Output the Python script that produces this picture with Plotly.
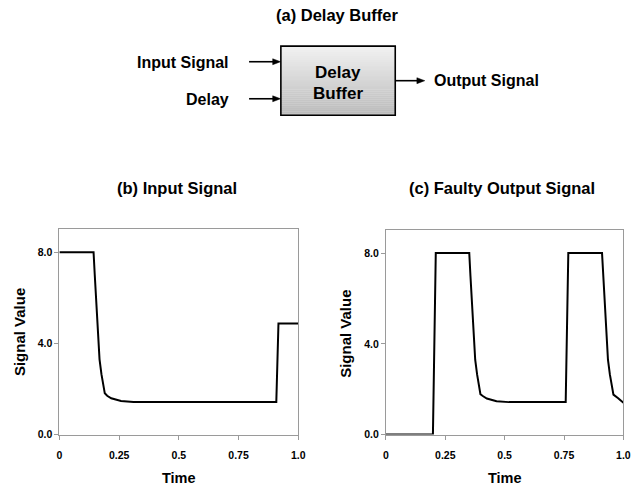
import plotly.graph_objects as go

# ---- signal data ----
t_input = [0, 0.143, 0.148, 0.153, 0.157, 0.162, 0.168, 0.176, 0.19, 0.20, 0.217, 0.258, 0.31,
           0.908, 0.917, 1.0]
v_input = [8.0, 8.0, 7.0, 6.0, 5.0, 4.0, 3.3, 2.65, 1.81, 1.70, 1.59, 1.47, 1.43,
           1.43, 4.87, 4.87]

t_output = [0, 0.198, 0.21, 0.351, 0.356, 0.361, 0.365, 0.370, 0.376, 0.384, 0.398, 0.408,
            0.425, 0.466, 0.518, 0.757, 0.768, 0.910, 0.915, 0.920, 0.924, 0.929, 0.935,
            0.943, 0.958, 0.978, 1.0]
v_output = [0.0, 0.0, 8.0, 8.0, 7.0, 6.0, 5.0, 4.0, 3.3, 2.65, 1.78, 1.70,
            1.59, 1.47, 1.43, 1.43, 8.0, 8.0, 7.0, 6.0, 5.0, 4.0, 3.3,
            2.65, 1.76, 1.60, 1.40]

x_tickvals = [0, 0.25, 0.5, 0.75, 1.0]
x_ticktext = ["0", "0.25", "0.5", "0.75", "1.0"]
y_tickvals = [0, 4, 8]
y_ticktext = ["0.0", "4.0", "8.0"]

W, H = 637, 485
FONT = "Liberation Sans, Arial, Helvetica, sans-serif"


def px(x):
    return x / W


def py(y):
    return 1 - y / H


fig = go.Figure()
fig.add_trace(go.Scatter(x=t_input, y=v_input, mode="lines",
                         line=dict(color="black", width=2), xaxis="x", yaxis="y",
                         showlegend=False, hoverinfo="skip"))
fig.add_trace(go.Scatter(x=t_output, y=v_output, mode="lines",
                         line=dict(color="black", width=2), xaxis="x2", yaxis="y2",
                         showlegend=False, hoverinfo="skip"))

axis_common = dict(showgrid=False, zeroline=False, showline=True, mirror=True,
                   linecolor="#9a9a9a", linewidth=1, ticks="outside", ticklen=4,
                   tickcolor="#9a9a9a",
                   tickfont=dict(family=FONT, size=10.5, color="black", weight="bold"))

fig.update_layout(
    width=W, height=H, autosize=False,
    margin=dict(l=0, r=0, t=0, b=0),
    paper_bgcolor="white", plot_bgcolor="white",
    xaxis=dict(domain=[px(57.3), px(300)], range=[0, 1], tickvals=x_tickvals,
               ticktext=x_ticktext, anchor="y", ticklabelstandoff=7, **axis_common),
    yaxis=dict(domain=[py(440), py(232.3)], range=[0, 9], tickvals=y_tickvals,
               ticktext=y_ticktext, anchor="x", **axis_common),
    xaxis2=dict(domain=[px(389), px(630.3)], range=[0, 1], tickvals=x_tickvals,
                ticktext=x_ticktext, anchor="y2", ticklabelstandoff=7, **axis_common),
    yaxis2=dict(domain=[py(440), py(233.3)], range=[0, 9], tickvals=y_tickvals,
                ticktext=y_ticktext, anchor="x2", **axis_common),
)

shapes = []
# Delay buffer block with a vertical grey gradient
box_l, box_r, box_t, box_b = 282.3, 398.5, 46.7, 116.7
n_bands = 35
top_rgb, bot_rgb = (242, 242, 242), (186, 186, 186)
band_h = (box_b - box_t) / n_bands
for i in range(n_bands):
    f = (i + 0.5) / n_bands
    c = tuple(int(round(a + (b - a) * f)) for a, b in zip(top_rgb, bot_rgb))
    y0 = box_t + i * band_h
    shapes.append(dict(type="rect", xref="paper", yref="paper",
                       x0=px(box_l), x1=px(box_r), y0=py(y0 + band_h + 0.3), y1=py(y0),
                       fillcolor=f"rgb{c}", line=dict(width=0), layer="below"))
shapes.append(dict(type="rect", xref="paper", yref="paper",
                   x0=px(box_l), x1=px(box_r), y0=py(box_b), y1=py(box_t),
                   fillcolor="rgba(0,0,0,0)", line=dict(color="black", width=1.6)))


def arrow(x0, x1, y):
    head = 8
    shapes.append(dict(type="line", xref="paper", yref="paper",
                       x0=px(x0), x1=px(x1 - head + 1), y0=py(y), y1=py(y),
                       line=dict(color="black", width=1.6)))
    path = (f"M {px(x1)},{py(y)} L {px(x1 - head)},{py(y - 3)} "
            f"L {px(x1 - head)},{py(y + 3)} Z")
    shapes.append(dict(type="path", xref="paper", yref="paper", path=path,
                       fillcolor="black", line=dict(color="black", width=0.5)))


arrow(250, 282, 62.5)
arrow(250, 282, 100)
arrow(399, 428.5, 81.7)

fig.update_layout(shapes=shapes)


def label(text, x, y, size, xanchor="center", angle=0, yanchor="middle", yshift=0):
    fig.add_annotation(text=f"<b>{text}</b>", x=px(x), y=py(y), xref="paper", yref="paper",
                       showarrow=False, xanchor=xanchor, yanchor=yanchor, textangle=angle,
                       yshift=yshift, borderpad=0,
                       font=dict(family=FONT, size=size, color="black"))


label("(a) Delay Buffer", 340, 15, 16.5)
label("Input Signal", 231, 63.5, 16, xanchor="right")
label("Delay", 231, 101, 16, xanchor="right")
label("Output Signal", 437, 82, 16, xanchor="left")
label("Delay", 340.5, 73.5, 17)
label("Buffer", 340.5, 94.5, 17)

label("(b) Input Signal", 176.7, 190, 16.5)
label("(c) Faulty Output Signal", 506.5, 190, 16.5)

label("Time", 178.7, 485, 14.5, yanchor="bottom", yshift=-8)
label("Time", 509.7, 485, 14.5, yanchor="bottom", yshift=-8)
label("Signal Value", 17, 336.5, 15, angle=-90)
label("Signal Value", 348.5, 338, 15, angle=-90)

fig.write_html("out.html")
